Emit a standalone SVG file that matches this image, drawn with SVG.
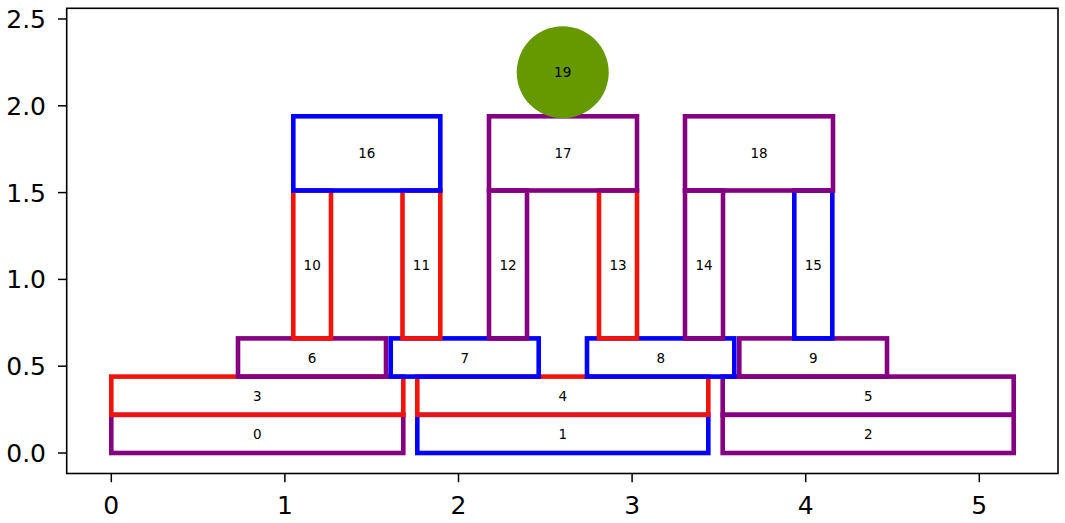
<svg xmlns="http://www.w3.org/2000/svg" width="1065" height="523" viewBox="0 0 1065 523">
<style>
.b{fill:none;stroke-width:4.6}
.r{stroke:#f2140a}.p{stroke:#850080}.u{stroke:#0000ff}
.l{font-family:"DejaVu Sans",sans-serif;font-size:13.5px;text-anchor:middle;dominant-baseline:central;fill:#000}
.t{font-family:"DejaVu Sans",sans-serif;font-size:25px;fill:#000}
.tk{stroke:#000;stroke-width:1.5}
</style>
<rect x="0" y="0" width="1065" height="523" fill="#fff"/>
<g id="axes">
<rect x="66.7" y="8.3" width="991.3" height="465.2" fill="none" stroke="#000" stroke-width="1.6"/>
<g class="tk">
<line x1="58" y1="453" x2="66.7" y2="453"/><line x1="58" y1="366.2" x2="66.7" y2="366.2"/><line x1="58" y1="279.4" x2="66.7" y2="279.4"/><line x1="58" y1="192.6" x2="66.7" y2="192.6"/><line x1="58" y1="105.8" x2="66.7" y2="105.8"/><line x1="58" y1="19" x2="66.7" y2="19"/>
<line x1="111.3" y1="473.5" x2="111.3" y2="482.2"/><line x1="284.9" y1="473.5" x2="284.9" y2="482.2"/><line x1="458.5" y1="473.5" x2="458.5" y2="482.2"/><line x1="632.1" y1="473.5" x2="632.1" y2="482.2"/><line x1="805.7" y1="473.5" x2="805.7" y2="482.2"/><line x1="979.3" y1="473.5" x2="979.3" y2="482.2"/>
</g>
<g class="t" text-anchor="end">
<text x="46" y="462">0.0</text><text x="46" y="375.2">0.5</text><text x="46" y="288.4">1.0</text><text x="46" y="201.6">1.5</text><text x="46" y="114.8">2.0</text><text x="46" y="28">2.5</text>
</g>
<g class="t" text-anchor="middle">
<text x="111.3" y="514">0</text><text x="284.9" y="514">1</text><text x="458.5" y="514">2</text><text x="632.1" y="514">3</text><text x="805.7" y="514">4</text><text x="979.3" y="514">5</text>
</g>
</g>
<g id="node0"><rect class="b p" x="111.3" y="414.8" width="292" height="38.2"/><text class="l" x="257.3" y="433.9">0</text></g>
<g id="node1"><rect class="b u" x="417.3" y="414.8" width="291" height="38.2"/><text class="l" x="562.8" y="433.9">1</text></g>
<g id="node2"><rect class="b p" x="722.7" y="414.8" width="291" height="38.2"/><text class="l" x="868.2" y="433.9">2</text></g>
<g id="node3"><rect class="b r" x="111.3" y="376.6" width="292" height="38.2"/><text class="l" x="257.3" y="395.7">3</text></g>
<g id="node4"><rect class="b r" x="417.3" y="376.6" width="291" height="38.2"/><text class="l" x="562.8" y="395.7">4</text></g>
<g id="node5"><rect class="b p" x="722.7" y="376.6" width="291" height="38.2"/><text class="l" x="868.2" y="395.7">5</text></g>
<g id="node6"><rect class="b p" x="238" y="338.4" width="148" height="38.2"/><text class="l" x="312" y="357.5">6</text></g>
<g id="node7"><rect class="b u" x="390.7" y="338.4" width="148" height="38.2"/><text class="l" x="464.7" y="357.5">7</text></g>
<g id="node8"><rect class="b u" x="587" y="338.4" width="147.3" height="38.2"/><text class="l" x="660.7" y="357.5">8</text></g>
<g id="node9"><rect class="b p" x="739.3" y="338.4" width="147.7" height="38.2"/><text class="l" x="813.2" y="357.5">9</text></g>
<g id="node10"><rect class="b r" x="293.3" y="190.5" width="37.7" height="147.9"/><text class="l" x="312.2" y="264.5">10</text></g>
<g id="node11"><rect class="b r" x="402.5" y="190.5" width="37.8" height="147.9"/><text class="l" x="421.4" y="264.5">11</text></g>
<g id="node12"><rect class="b p" x="489" y="190.5" width="38" height="147.9"/><text class="l" x="508" y="264.5">12</text></g>
<g id="node13"><rect class="b r" x="599" y="190.5" width="38" height="147.9"/><text class="l" x="618" y="264.5">13</text></g>
<g id="node14"><rect class="b p" x="685" y="190.5" width="38" height="147.9"/><text class="l" x="704" y="264.5">14</text></g>
<g id="node15"><rect class="b u" x="794.3" y="190.5" width="38" height="147.9"/><text class="l" x="813.3" y="264.5">15</text></g>
<g id="node16"><rect class="b u" x="293.3" y="116.3" width="147" height="74.2"/><text class="l" x="366.8" y="153.4">16</text></g>
<g id="node17"><rect class="b p" x="489" y="116.3" width="148" height="74.2"/><text class="l" x="563" y="153.4">17</text></g>
<g id="node18"><rect class="b p" x="685" y="116.3" width="148" height="74.2"/><text class="l" x="759" y="153.4">18</text></g>
<g id="node19"><circle cx="562.7" cy="72.3" r="46" fill="#669900"/><text class="l" x="562.7" y="72.3">19</text></g>
<g id="connectors"></g>
</svg>
